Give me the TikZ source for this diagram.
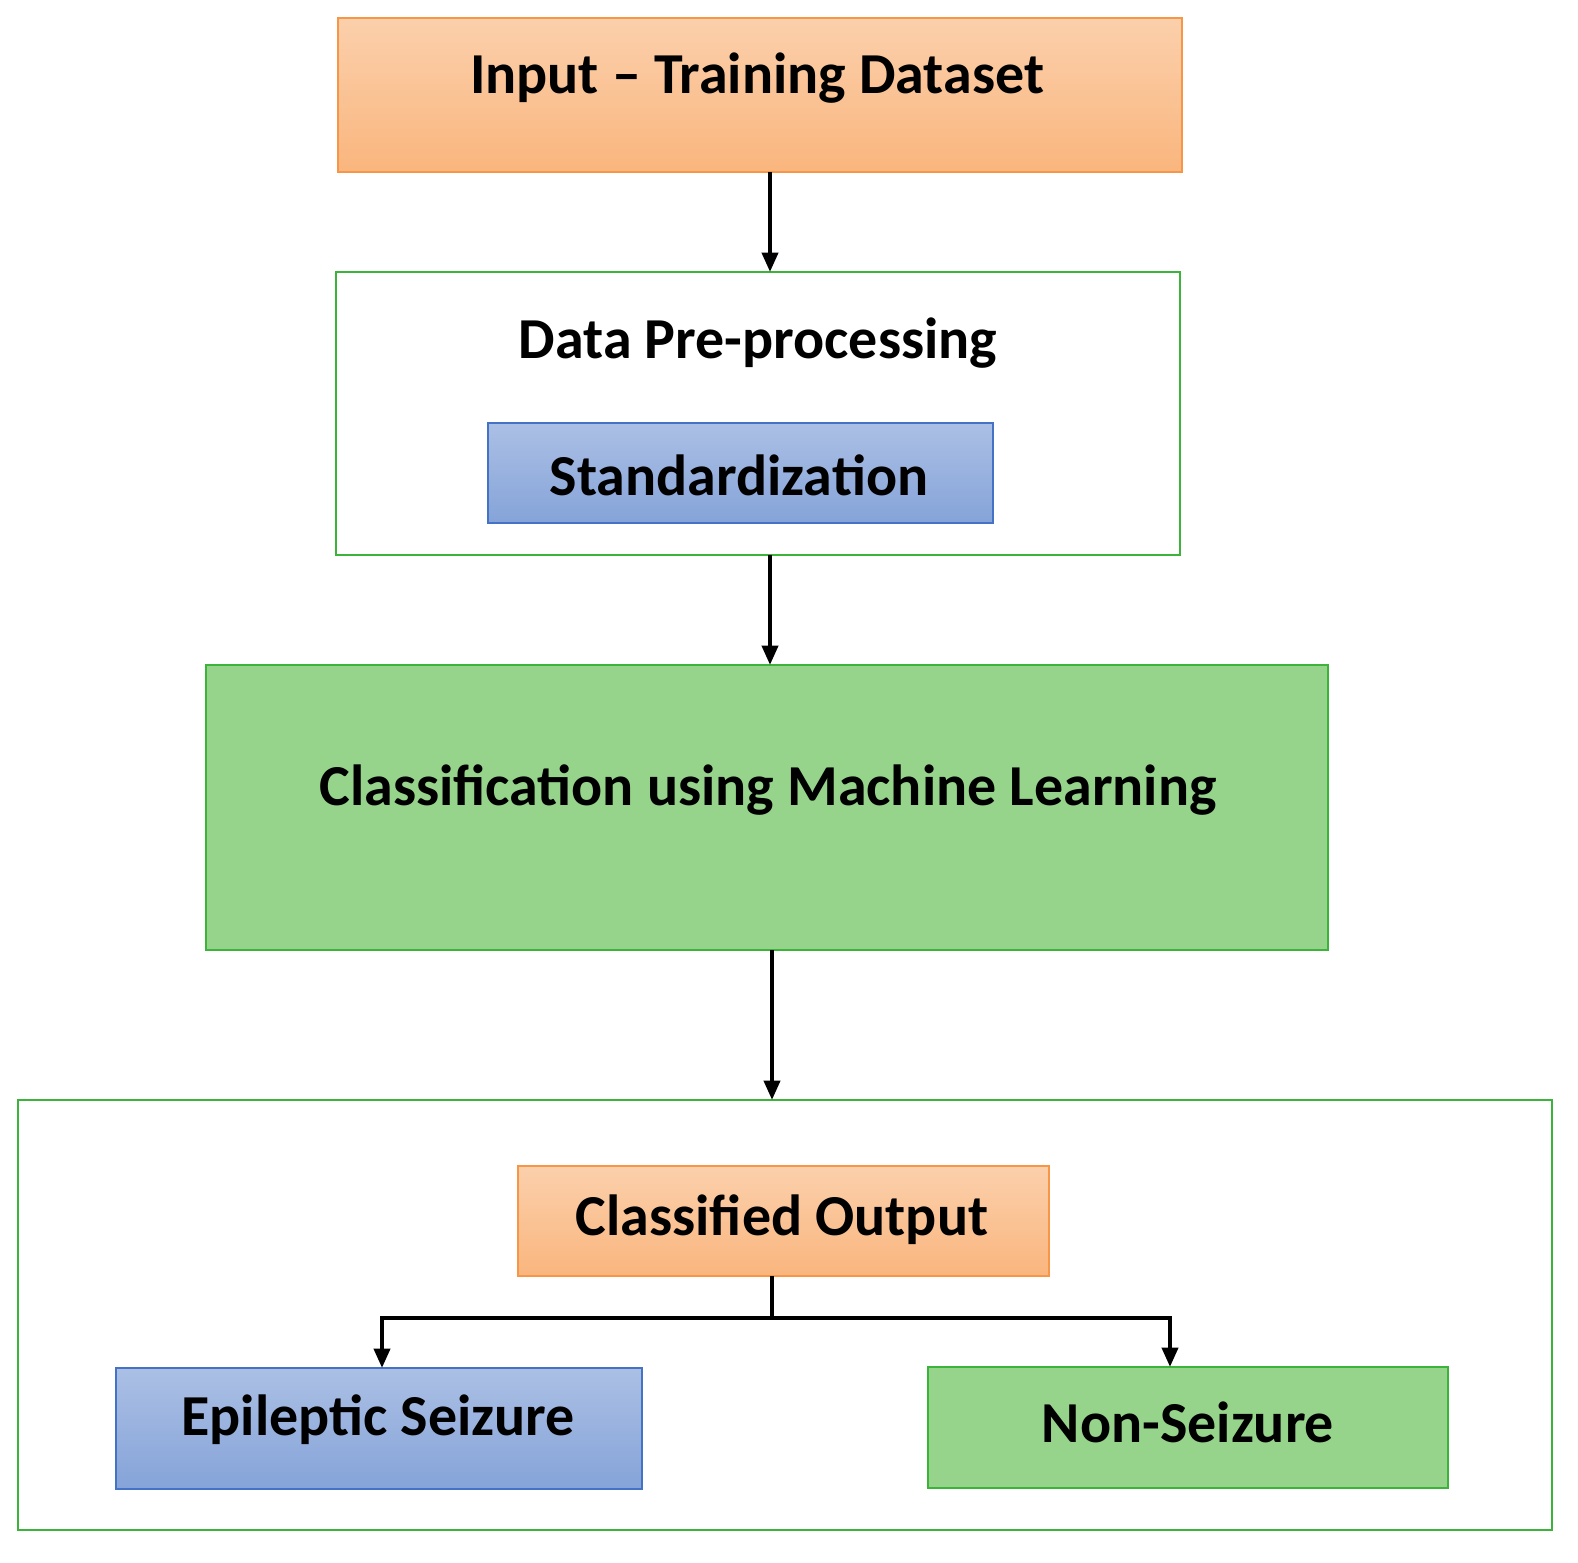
\documentclass[tikz,border=0pt]{standalone}
\usepackage{fontspec}
\setmainfont{Carlito}
\usetikzlibrary{arrows.meta}
\definecolor{orb}{HTML}{F79646}
\definecolor{grb}{HTML}{3CB43C}
\definecolor{blb}{HTML}{4472C4}
\definecolor{grf}{HTML}{97D48B}
\begin{document}
\begin{tikzpicture}[x=0.02cm,y=-0.02cm,
 box/.style={draw, line width=1.6pt},
 orange/.style={box, draw=orb, top color=orb!45, bottom color=orb!70},
 blue/.style={box, draw=blb, top color=blb!45, bottom color=blb!65},
 green/.style={box, draw=grb, fill=grf},
 white/.style={box, draw=grb, fill=white},
 txt/.style={font=\bfseries\fontsize{33}{36}\selectfont, text=black},
 arr/.style={-{Triangle[length=11pt,width=9pt]}, line width=2.4pt}]
\useasboundingbox (0,0) rectangle (1578,1562);
\path[orange] (338,18) rectangle (1182,172);
\node[txt] (t1) at (757,78) {Input – Training Dataset};
\path[white] (336,272) rectangle (1180,555);
\node[txt] (t2) at (758,343) {Data Pre-processing};
\path[blue] (488,423) rectangle (993,523);
\node[txt] (t3) at (739,475) {Standardization};
\path[green] (206,665) rectangle (1328,950);
\node[txt] (t4) at (768,790) {Classification using Machine Learning};
\path[white] (18,1100) rectangle (1552,1530);
\path[orange] (518,1166) rectangle (1049,1276);
\node[txt] (t5) at (782,1220) {Classified Output};
\path[blue] (116,1368) rectangle (642,1489);
\node[txt] (t6) at (378,1420) {Epileptic Seizure};
\path[green] (928,1367) rectangle (1448,1488);
\node[txt] (t7) at (1188,1422) {Non-Seizure};
\coordinate (a1) at (770,172); \coordinate (a2) at (770,272);
\coordinate (b1) at (770,555); \coordinate (b2) at (770,665);
\coordinate (c1) at (772,950); \coordinate (c2) at (772,1100);
\coordinate (d0) at (772,1276); \coordinate (d1) at (772,1318);
\coordinate (e1) at (382,1368); \coordinate (e2) at (1170,1367);
\draw[arr] (a1) -- (a2);
\draw[arr] (b1) -- (b2);
\draw[arr] (c1) -- (c2);
\draw[line width=2.4pt] (d0) -- (d1);
\draw[arr] (d1) -| (e1);
\draw[arr] (d1) -| (e2);
\end{tikzpicture}
\end{document}
